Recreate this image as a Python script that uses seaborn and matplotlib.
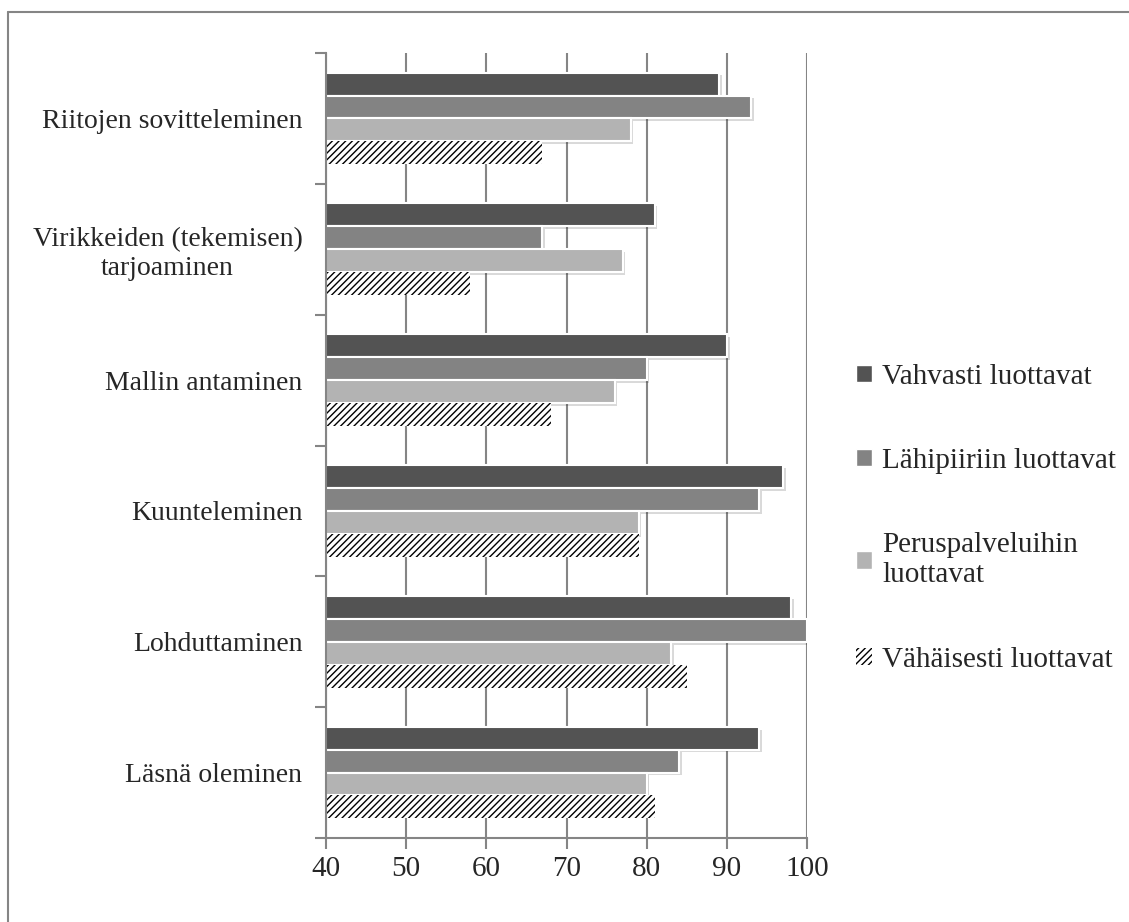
"""Horizontal grouped bar chart: trust groups vs. support activities."""

import numpy as np
import pandas as pd
import matplotlib
matplotlib.use("Agg")
import matplotlib.pyplot as plt
import matplotlib.patheffects as pe
from matplotlib.lines import Line2D
from matplotlib.patches import Patch
import seaborn as sns

# data, top to bottom
activities = [
    "Riitojen sovitteleminen",
    "Virikkeiden (tekemisen)\ntarjoaminen",
    "Mallin antaminen",
    "Kuunteleminen",
    "Lohduttaminen",
    "Läsnä oleminen",
]
groups = [
    "Vahvasti luottavat",
    "Lähipiiriin luottavat",
    "Peruspalveluihin\nluottavat",
    "Vähäisesti luottavat",
]
vahvasti = [89, 81, 90, 97, 98, 94]
lahipiiri = [93, 67, 80, 94, 100, 84]
peruspalvelut = [78, 77, 76, 79, 83, 80]
vahaisesti = [67, 58, 68, 79, 85, 81]

colors = ["#535353", "#838383", "#b3b3b3", "#ffffff"]

rows = []
for g, vals in zip(groups, [vahvasti, lahipiiri, peruspalvelut, vahaisesti]):
    for a, v in zip(activities, vals):
        rows.append({"activity": a, "group": g, "value": v})
df = pd.DataFrame(rows)

sns.set_style("white")
plt.rcParams["font.family"] = ["Liberation Serif", "DejaVu Serif"]
plt.rcParams["hatch.linewidth"] = 1.0

fig = plt.figure(figsize=(11.29, 9.22), dpi=100)
ax = fig.add_axes([0.2888, 0.0911, 0.7148 - 0.2888, 0.9425 - 0.0911])

sns.barplot(data=df, y="activity", x="value", hue="group", order=activities,
            hue_order=groups, palette=colors, orient="h", width=0.7,
            ax=ax, legend=False, edgecolor="white", linewidth=1.5)

shadow = [pe.SimplePatchShadow(offset=(2, -2), alpha=0.15, shadow_rgbFace="black"),
          pe.Normal()]


def hatch_it(patch):
    # hatch takes the edge colour, so use a black edge with zero width
    patch.set_hatch("/////")
    patch.set_edgecolor("black")
    patch.set_linewidth(0)


for i, cont in enumerate(ax.containers):
    for bar in cont:
        if i == 3:
            hatch_it(bar)
        else:
            bar.set_path_effects(shadow)

ax.set_xlim(40, 100)
ax.set_ylim(len(activities) - 0.5, -0.5)
ax.set_xticks(np.arange(40, 101, 10))
ax.set_xlabel("")
ax.set_ylabel("")

grid_c = "#858585"
ax.set_axisbelow(True)
ax.xaxis.grid(True, color=grid_c, linewidth=1.5)
ax.yaxis.grid(False)
for s in ["top", "right"]:
    ax.spines[s].set_visible(False)
for s in ["left", "bottom"]:
    ax.spines[s].set_color(grid_c)
    ax.spines[s].set_linewidth(1.5)

ax.tick_params(axis="x", which="major", length=8, width=1.5, color=grid_c,
               direction="out", labelsize=21, pad=5, bottom=True)
ax.tick_params(axis="y", which="major", length=0, labelsize=20, pad=17)
ax.set_yticks(np.arange(-0.5, len(activities), 1.0), minor=True)
ax.tick_params(axis="y", which="minor", length=8, width=1.5, color=grid_c,
               direction="out", left=True)
for lbl in ax.get_yticklabels():
    lbl.set_multialignment("center")

handles = [Patch(facecolor=c, edgecolor="white", label=g) for c, g in zip(colors, groups)]
hatch_it(handles[3])
leg = fig.legend(handles=handles, loc="center left", bbox_to_anchor=(0.735, 0.438),
                 frameon=False, fontsize=21, handlelength=0.55, handleheight=0.55,
                 handletextpad=0.35, labelspacing=2.0)

# outer frame (top and left edges visible)
fig.add_artist(Line2D([0.0068, 1.0], [0.9875, 0.9875], color=grid_c, linewidth=1.5,
                      transform=fig.transFigure))
fig.add_artist(Line2D([0.0068, 0.0068], [0.0, 0.9875], color=grid_c, linewidth=1.5,
                      transform=fig.transFigure))

fig.savefig("out.png", dpi=100)
